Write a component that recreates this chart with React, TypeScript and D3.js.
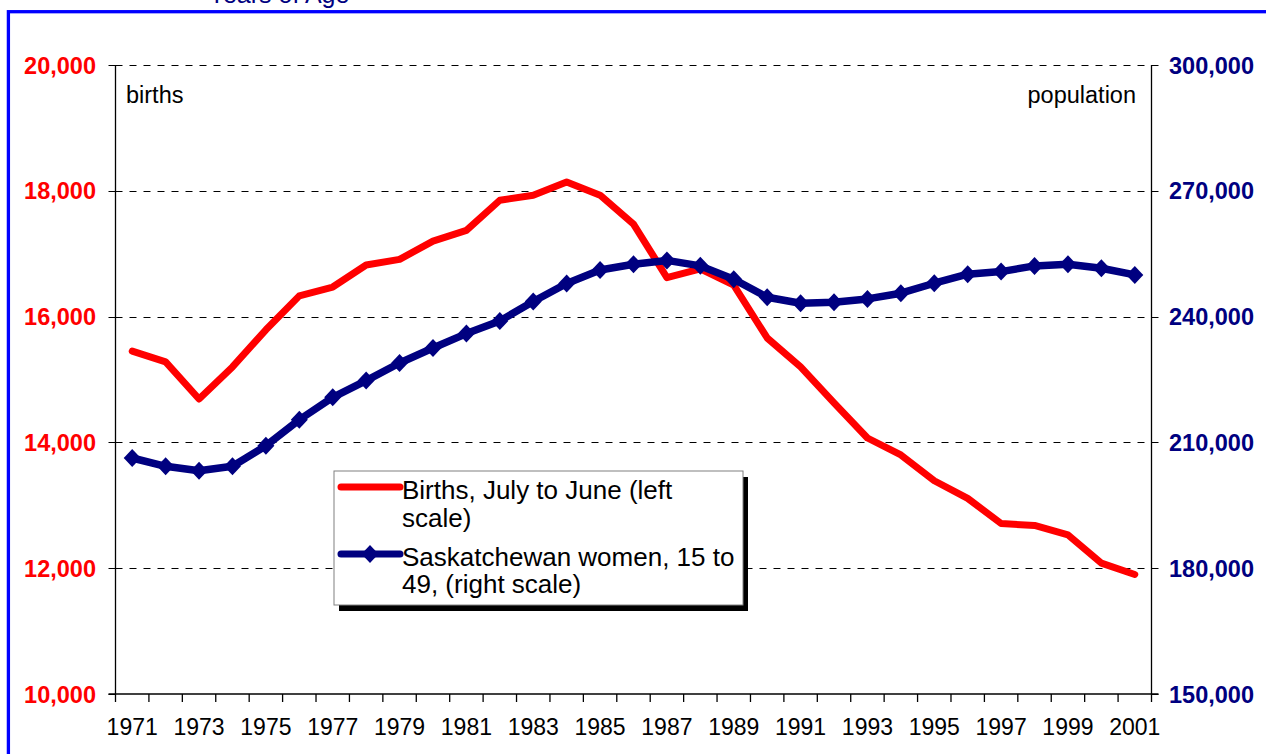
import React from "react";
import * as d3 from "d3";

const years: number[] = [
  1971, 1972, 1973, 1974, 1975, 1976, 1977, 1978, 1979, 1980, 1981, 1982, 1983, 1984, 1985, 1986,
  1987, 1988, 1989, 1990, 1991, 1992, 1993, 1994, 1995, 1996, 1997, 1998, 1999, 2000, 2001,
];

const births: number[] = [
  15450, 15280, 14690, 15200, 15790, 16330, 16470, 16820, 16910, 17200, 17370, 17850, 17930, 18140,
  17930, 17470, 16620, 16760, 16500, 15660, 15200, 14630, 14070, 13800, 13390, 13110, 12710, 12680,
  12530, 12080, 11900,
];

const women: number[] = [
  206280, 204300, 203250, 204300, 209200, 215400, 220750, 224750, 228930, 232510, 235950, 238970,
  243600, 247900, 251100, 252500, 253400, 252100, 248900, 244620, 243190, 243400, 244220, 245580,
  247960, 250110, 250730, 252090, 252500, 251540, 249940,
];

const leftTicks: number[] = [10000, 12000, 14000, 16000, 18000, 20000];
const rightTicks: number[] = [150000, 180000, 210000, 240000, 270000, 300000];

const FONT = "'Liberation Sans', Arial, Helvetica, sans-serif";
const RED = "#FF0000";
const NAVY = "#000080";

export default function App() {
  const left = 115.5;
  const right = 1151.5;
  const top = 65;
  const bottom = 694;

  const x = d3.scaleBand<number>().domain(years).range([left, right]).paddingInner(0).paddingOuter(0);
  const bw = x.bandwidth();
  const cx = (yr: number) => (x(yr) as number) + bw / 2;
  const yL = d3.scaleLinear().domain([10000, 20000]).range([bottom, top]);
  const yR = d3.scaleLinear().domain([150000, 300000]).range([bottom, top]);
  const crisp = (v: number) => Math.round(v) + 0.5;

  const fmt = d3.format(",");

  const birthLine = d3
    .line<number>()
    .x((_, i) => cx(years[i]))
    .y((d) => yL(d))(births) as string;

  const womenLine = d3
    .line<number>()
    .x((_, i) => cx(years[i]))
    .y((d) => yR(d))(women) as string;

  const diamond = (px: number, py: number) =>
    `M${px},${py - 9} L${px + 8.5},${py} L${px},${py + 9} L${px - 8.5},${py} Z`;

  const edges = years.map((yr) => x(yr) as number).concat([right]);

  const legX = 334;
  const legY = 471;
  const legW = 409;
  const legH = 134;

  return (
    <svg
      width={1266}
      height={754}
      style={{ position: "absolute", left: 0, top: 0, background: "#fff" }}
      fontFamily={FONT}
    >
      <rect x={0} y={0} width={1266} height={754} fill="#fff" />
      {/* title, cut off at the top edge as in the reference */}
      <text x={279} y={3} fontSize={25} fill={NAVY} textAnchor="middle">
        Years of Age
      </text>
      {/* outer border */}
      <rect x={8.4} y={11.7} width={1400} height={900} fill="none" stroke="#0000FF" strokeWidth={3.3} />

      {/* gridlines */}
      {leftTicks.slice(1).map((t) => (
        <line
          key={"g" + t}
          x1={left}
          x2={right}
          y1={crisp(yL(t))}
          y2={crisp(yL(t))}
          stroke="#000"
          strokeWidth={1}
          strokeDasharray="7,7"
        />
      ))}

      {/* axes */}
      <line x1={left} x2={left} y1={top} y2={bottom} stroke="#000" strokeWidth={1.3} />
      <line x1={right} x2={right} y1={top} y2={bottom} stroke="#000" strokeWidth={1.3} />
      <line x1={left - 7} x2={right + 7} y1={bottom} y2={bottom} stroke="#000" strokeWidth={1.3} />

      {/* left ticks and labels */}
      {leftTicks.map((t) => (
        <g key={"l" + t}>
          <line x1={left - 7} x2={left} y1={crisp(yL(t))} y2={crisp(yL(t))} stroke="#000" strokeWidth={1} />
          <text x={96} y={yL(t) + 8.5} textAnchor="end" fontSize={23.5} fontWeight="bold" fill={RED}>
            {fmt(t)}
          </text>
        </g>
      ))}

      {/* right ticks and labels */}
      {rightTicks.map((t) => (
        <g key={"r" + t}>
          <line x1={right} x2={right + 7} y1={crisp(yR(t))} y2={crisp(yR(t))} stroke="#000" strokeWidth={1} />
          <text x={1169} y={yR(t) + 8.5} textAnchor="start" fontSize={23.5} fontWeight="bold" fill={NAVY}>
            {fmt(t)}
          </text>
        </g>
      ))}

      {/* x ticks */}
      {edges.map((e, i) => (
        <line key={"xt" + i} x1={e} x2={e} y1={bottom} y2={bottom + 8} stroke="#000" strokeWidth={1.3} />
      ))}
      {years
        .filter((_, i) => i % 2 === 0)
        .map((yr) => (
          <text key={"xl" + yr} x={cx(yr)} y={735} textAnchor="middle" fontSize={23} fill="#000">
            {yr}
          </text>
        ))}

      {/* unit labels */}
      <text x={126} y={103} fontSize={23.5} fill="#000">
        births
      </text>
      <text x={1136} y={103} fontSize={23.5} fill="#000" textAnchor="end">
        population
      </text>

      {/* series */}
      <path d={birthLine} fill="none" stroke={RED} strokeWidth={7} strokeLinejoin="round" strokeLinecap="round" />
      <path d={womenLine} fill="none" stroke={NAVY} strokeWidth={7.5} strokeLinejoin="round" />
      {women.map((v, i) => (
        <path key={"m" + i} d={diamond(cx(years[i]), yR(v))} fill={NAVY} />
      ))}

      {/* legend */}
      <rect x={legX + 5} y={legY + 6} width={legW} height={legH} fill="#000" />
      <rect x={legX} y={legY} width={legW} height={legH} fill="#fff" stroke="#808080" strokeWidth={1} />
      <line x1={341} x2={400} y1={487} y2={487} stroke={RED} strokeWidth={7} strokeLinecap="round" />
      <line x1={341} x2={400} y1={554} y2={554} stroke={NAVY} strokeWidth={7} strokeLinecap="round" />
      <path d={diamond(370, 554)} fill={NAVY} />
      <text x={402} y={499} fontSize={26} fill="#000">
        Births, July to June (left
      </text>
      <text x={402} y={527} fontSize={26} fill="#000">
        scale)
      </text>
      <text x={402} y={566} fontSize={26} fill="#000">
        Saskatchewan women, 15 to
      </text>
      <text x={402} y={593} fontSize={26} fill="#000">
        49, (right scale)
      </text>
    </svg>
  );
}
